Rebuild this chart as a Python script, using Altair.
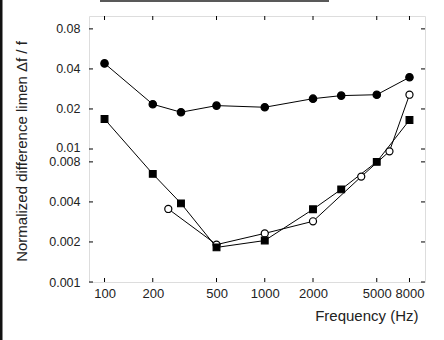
import altair as alt
import pandas as pd

# Filled circles
fc_freq = [100, 200, 300, 500, 1000, 2000, 3000, 5000, 8000]
fc_val = [0.044, 0.0217, 0.0189, 0.0212, 0.0206, 0.0239, 0.0252, 0.0256, 0.0346]
# Filled squares
fs_freq = [100, 200, 300, 500, 1000, 2000, 3000, 5000, 8000]
fs_val = [0.0168, 0.0065, 0.0039, 0.00182, 0.00205, 0.00352, 0.00497, 0.0080, 0.0165]
# Open circles
oc_freq = [250, 500, 1000, 2000, 4000, 6000, 8000]
oc_val = [0.00354, 0.00191, 0.00232, 0.00286, 0.0062, 0.0096, 0.0256]

y_ticks = [0.001, 0.002, 0.004, 0.008, 0.01, 0.02, 0.04, 0.08]
x_ticks = [100, 200, 500, 1000, 2000, 5000, 8000]

W, H = 336, 266
FONT = "Liberation Sans"

xscale = alt.Scale(type="log", domain=[80, 10000], nice=False)
yscale = alt.Scale(type="log", domain=[0.001, 0.1], nice=False)

X = alt.X("f:Q", scale=xscale, axis=alt.Axis(
    values=x_ticks, format="d", title="Frequency (Hz)", grid=False, ticks=False,
    domain=False, labelFont=FONT, labelFontSize=13, labelColor="#222",
    labelPadding=5, titleFont=FONT, titleFontSize=15, titleFontWeight="normal",
    titleColor="#222", titleAlign="right", titleX=329, titleY=38,
    titleBaseline="alphabetic", labelFlush=False, labelOverlap=False))
Y = alt.Y("v:Q", scale=yscale, axis=alt.Axis(
    values=y_ticks, format="~g", title="Normalized difference limen \u0394f / f",
    grid=False, ticks=False, domain=False, labelFont=FONT, labelFontSize=12.5,
    labelColor="#222", labelPadding=9, titleFont=FONT, titleFontSize=15,
    titleFontWeight="normal", titleColor="#222", titleAngle=-90, titleX=-63,
    titleY=135, titleBaseline="alphabetic", labelFlush=False, labelOverlap=False,
    labelOffset={"condition": {"test": "datum.value == 0.01", "value": -1.5},
                 "value": 0}))

def series(freq, val, shape, filled, size):
    df = pd.DataFrame({"f": freq, "v": val})
    line = alt.Chart(df).mark_line(color="black", strokeWidth=1).encode(x=X, y=Y)
    pts = alt.Chart(df).mark_point(
        shape=shape, filled=True, size=size, opacity=1,
        fill="black" if filled else "white", stroke="black", strokeWidth=1.2
    ).encode(x=X, y=Y)
    return line, pts

l1, p1 = series(fc_freq, fc_val, "circle", True, 55)
l2, p2 = series(fs_freq, fs_val, "square", True, 45)
l3, p3 = series(oc_freq, oc_val, "circle", False, 50)

ydf = pd.DataFrame({"v": y_ticks})
xdf = pd.DataFrame({"f": x_ticks})
tk = dict(color="black", strokeWidth=1)
t_left = alt.Chart(ydf).mark_rule(**tk).encode(y=Y, x=alt.value(0), x2=alt.value(4))
t_right = alt.Chart(ydf).mark_rule(**tk).encode(y=Y, x=alt.value(W - 4), x2=alt.value(W))
t_top = alt.Chart(xdf).mark_rule(**tk).encode(x=X, y=alt.value(0), y2=alt.value(4))
t_bot = alt.Chart(xdf).mark_rule(**tk).encode(x=X, y=alt.value(H - 4), y2=alt.value(H))

one = pd.DataFrame({"a": [0]})
border_left = alt.Chart(one).mark_rule(color="#111", strokeWidth=3).encode(
    x=alt.value(-88), y=alt.value(-16), y2=alt.value(324))
border_top = alt.Chart(one).mark_rule(color="#222", strokeWidth=1.5).encode(
    x=alt.value(11), x2=alt.value(240), y=alt.value(-15))

chart = alt.layer(
    t_left, t_right, t_top, t_bot, l3, l2, l1, p3, p2, p1, border_left, border_top
).properties(
    width=W, height=H,
    autosize=alt.AutoSizeParams(type="none"),
    padding={"left": 89, "top": 16, "right": 19, "bottom": 58},
).configure_view(stroke="black", strokeWidth=1.5).configure(background="white")

chart.save("out.html", embed_options={"renderer": "svg", "actions": False})
